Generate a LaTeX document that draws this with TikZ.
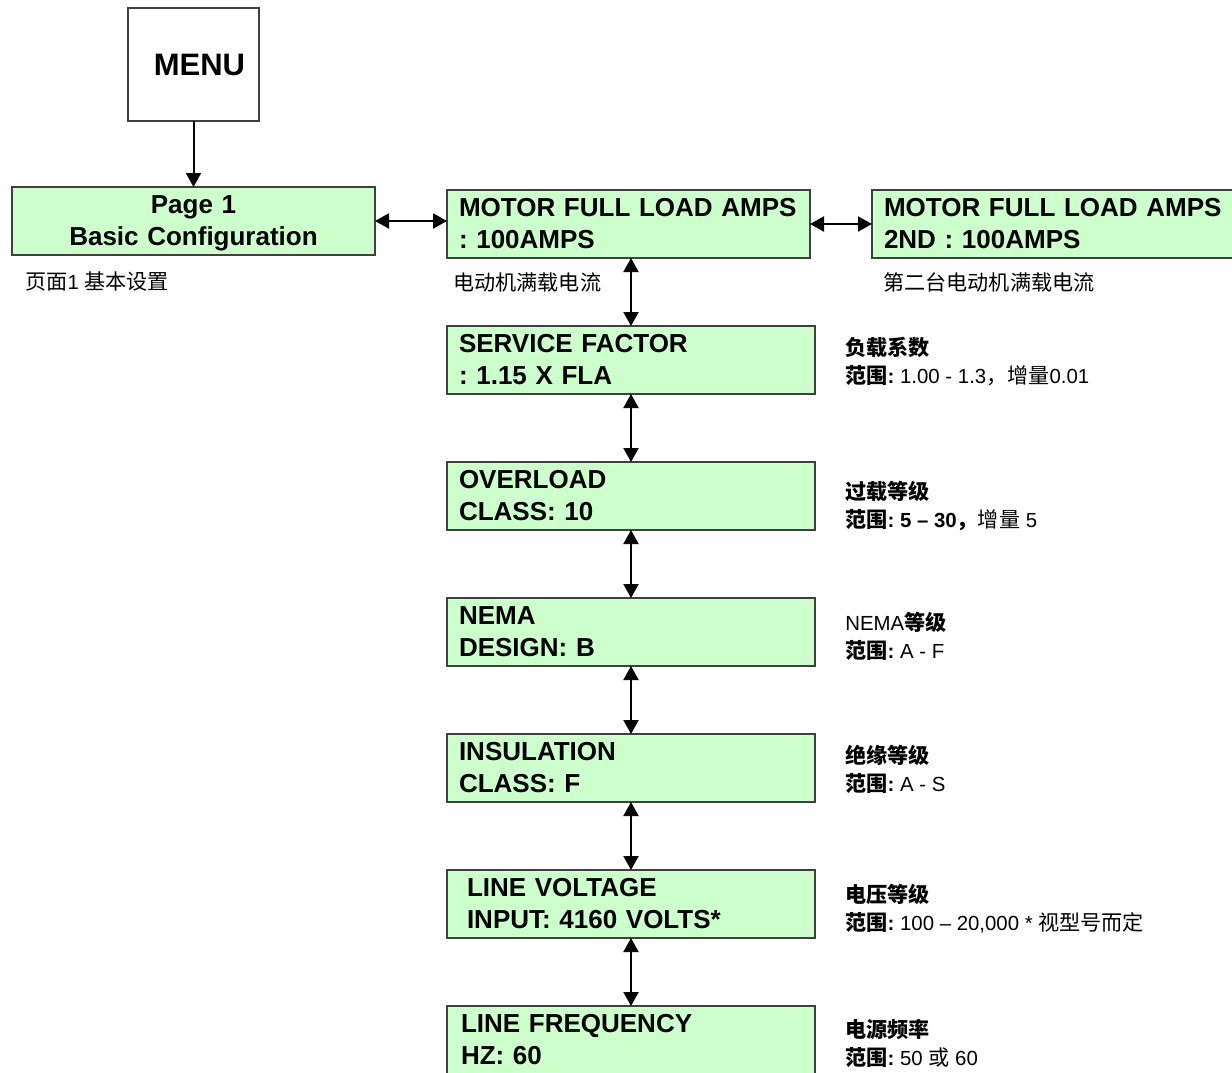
\documentclass[tikz,border=0pt]{standalone}
\usepackage{fontspec}
\setmainfont{Liberation Sans}
\newfontfamily\cjk{Noto Sans CJK SC}[Scale=1.035]
\newcommand{\zh}[1]{{\cjk #1}}
\usepackage{tikz}
\usetikzlibrary{positioning,arrows.meta}
\definecolor{screengreen}{HTML}{CCFFCC}
\frenchspacing

\begin{document}
\begin{tikzpicture}[
    x=0.5pt, y=-0.5pt,
    node distance=34pt,
    screen/.style={rectangle, draw=black!75, line width=0.6pt, fill=screengreen, minimum height=34pt, outer sep=0pt, inner xsep=6pt, inner ysep=0pt, text width=172pt, text height=10pt, text depth=18pt, align=left, font=\fontsize{13}{16}\selectfont\bfseries},
    note/.style={inner sep=0pt, align=left, font=\fontsize{10.2}{14}\selectfont},
    arrow/.style={-{Triangle[length=7pt,width=7.5pt]}, line width=1pt},
    biarrow/.style={{Triangle[length=7pt,width=7.5pt]}-{Triangle[length=7pt,width=7.5pt]}, line width=1pt}
]
    \useasboundingbox (0,0) rectangle (1232,1072);

    % Menu and page 1
    \node[draw=black!75, line width=0.6pt, outer sep=0pt, minimum width=65.5pt, minimum height=56.5pt, font=\fontsize{15.5}{18}\selectfont\bfseries] (menu) at (193.5,64.5) {\hspace{6pt}MENU};
    \node[screen, text width=169.5pt, align=center, below=33pt of menu] (page1) {Page 1\\Basic Configuration};

    % Motor full load amps
    \node[screen, text width=169.5pt, right=36pt of page1, yshift=-1.5pt] (mfla) {MOTOR FULL LOAD AMPS\\: 100AMPS};
    \node[screen, text width=169.5pt, right=31pt of mfla] (mfla2) {MOTOR FULL LOAD AMPS\\2ND : 100AMPS};

    % Settings column
    \node[screen, below=34pt of mfla.south west, anchor=north west] (sf) {SERVICE FACTOR\\: 1.15 X FLA};
    \node[screen, below=of sf] (ol) {OVERLOAD\\CLASS: 10};
    \node[screen, below=of ol] (nema) {NEMA\\DESIGN: B};
    \node[screen, below=of nema] (ins) {INSULATION\\CLASS: F};
    \node[screen, below=of ins] (lv) {\hspace{4pt}LINE VOLTAGE\\\hspace{4pt}INPUT: 4160 VOLTS*};
    \node[screen, below=of lv] (lf) {\hspace{1pt}LINE FREQUENCY\\\hspace{1pt}HZ: 60};

    % Arrows
    \draw[arrow] (menu) -- (page1);
    \draw[biarrow] (page1.east) -- (page1.east -| mfla.west);
    \draw[biarrow] (mfla) -- (mfla2);
    \draw[biarrow] (mfla.south -| sf.north) -- (sf.north);
    \foreach \a/\b in {sf/ol, ol/nema, nema/ins, ins/lv, lv/lf}
        \draw[biarrow] (\a) -- (\b);

    % Notes under the top row
    \node[note, below right=13.5pt and 6.5pt of page1.south west, anchor=west] (page1note) {\zh{页面}1 \zh{基本设置}};
    \node[note, below right=12pt and 3pt of mfla.south west, anchor=west] (mflanote) {\zh{电动机满载电流}};
    \node[note, below right=12pt and 5.5pt of mfla2.south west, anchor=west] (mfla2note) {\zh{第二台电动机满载电流}};

    % Notes beside the column
    \node[note, right=15pt of sf, yshift=-0.5pt] (sfnote) {\zh{\bfseries 负载系数}\\\zh{\bfseries 范围}\textbf{:} 1.00 - 1.3\zh{，增量}0.01};
    \node[note, right=15pt of ol, yshift=-5pt] (olnote) {\zh{\bfseries 过载等级}\\\zh{\bfseries 范围}\textbf{: 5 -- 30}\zh{\bfseries ，}\zh{增量} 5};
    \node[note, right=15pt of nema, yshift=-2pt] (nemanote) {NEMA\zh{\bfseries 等级}\\\zh{\bfseries 范围}\textbf{:} A - F};
    \node[note, right=15pt of ins, yshift=-0.5pt] (insnote) {\zh{\bfseries 绝缘等级}\\\zh{\bfseries 范围}\textbf{:} A - S};
    \node[note, right=15pt of lv, yshift=-2.5pt] (lvnote) {\zh{\bfseries 电压等级}\\\zh{\bfseries 范围}\textbf{:} 100 -- 20,000 * \zh{视型号而定}};
    \node[note, right=15pt of lf, yshift=-1.5pt] (lfnote) {\zh{\bfseries 电源频率}\\\zh{\bfseries 范围}\textbf{:} 50 \zh{或} 60};
\end{tikzpicture}
\end{document}
